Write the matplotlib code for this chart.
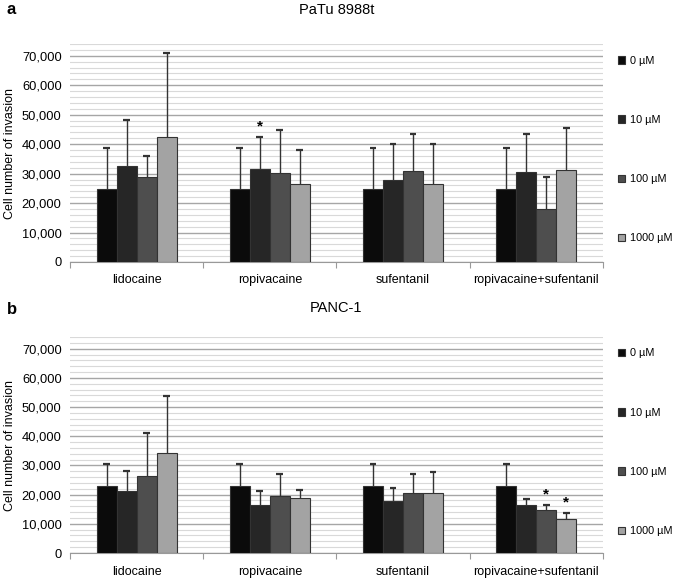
import matplotlib
matplotlib.use("Agg")
import matplotlib.pyplot as plt
import numpy as np
from matplotlib.ticker import FuncFormatter, MultipleLocator

plt.rcParams['font.family'] = ['Liberation Sans', 'DejaVu Sans']

drugs = ["lidocaine", "ropivacaine", "sufentanil", "ropivacaine+sufentanil"]
doses = ["0 µM", "10 µM", "100 µM", "1000 µM"]
colors = ["#0b0b0b", "#262626", "#4e4e4e", "#a3a3a3"]

# PaTu 8988t, one list per dose, values per drug
patu_mean = [[24900, 24900, 24900, 24900],
             [32700, 31500, 27700, 30700],
             [28700, 30300, 30900, 18100],
             [42500, 26400, 26400, 31300]]
patu_sd = [[13800, 13800, 13800, 13800],
           [15400, 10800, 12400, 12600],
           [7300, 14600, 12600, 10600],
           [28500, 11500, 13700, 14200]]
patu_star = [(1, 1)]  # (dose index, drug index)

# PANC-1
panc_mean = [[22900, 22900, 22900, 22900],
             [21100, 16500, 17800, 16500],
             [26500, 19400, 20600, 14700],
             [34400, 18700, 20600, 11500]]
panc_sd = [[7700, 7700, 7700, 7700],
           [7000, 4600, 4600, 2100],
           [14600, 7600, 6600, 1900],
           [19500, 2800, 7300, 2300]]
panc_star = [(2, 3), (3, 3)]

fig = plt.figure(figsize=(6.77, 5.87), dpi=100)
ax_a = fig.add_axes([0.1034, 0.5537, 0.787, 0.3713])
ax_b = fig.add_axes([0.1034, 0.0579, 0.787, 0.3680])


def panel(ax, means, sds, stars):
    x = np.arange(len(drugs))
    w = 0.15
    for i in range(len(doses)):
        pos = x + (i - 1.5) * w
        m = np.array(means[i])
        s = np.array(sds[i])
        ax.bar(pos, m, w, color=colors[i], edgecolor="#333333", linewidth=0.8,
               label=doses[i], zorder=3)
        # upper error bars only
        ax.vlines(pos, m, m + s, color="#333333", linewidth=1.0, zorder=4)
        ax.hlines(m + s, pos - 0.026, pos + 0.026, color="#333333",
                  linewidth=1.6, zorder=4)
    for i, j in stars:
        top = means[i][j] + sds[i][j]
        ax.text(j + (i - 1.5) * w, top + 1200, "*", ha="center", va="bottom",
                fontsize=11, fontweight="bold")
    ax.set_xlim(-0.5, 3.5)
    ax.set_ylim(0, 74000)
    ax.yaxis.set_major_locator(MultipleLocator(10000))
    ax.yaxis.set_minor_locator(MultipleLocator(2000))
    ax.yaxis.set_major_formatter(FuncFormatter(lambda v, p: f"{v:,.0f}"))
    ax.grid(axis="y", which="major", color="#a6a6a6", linewidth=1.0, zorder=0)
    ax.grid(axis="y", which="minor", color="#d9d9d9", linewidth=0.8, zorder=0)
    ax.set_axisbelow(True)
    for sp in ["top", "right", "left"]:
        ax.spines[sp].set_visible(False)
    ax.spines["bottom"].set_color("#999999")
    ax.set_xticks(np.arange(-0.5, 4, 1))
    ax.set_xticklabels([])
    ax.set_xticks(x, minor=True)
    ax.set_xticklabels(drugs, minor=True, fontsize=9)
    ax.tick_params(axis="x", which="major", length=4, color="#999999")
    ax.tick_params(axis="x", which="minor", length=0, pad=9)
    ax.tick_params(axis="y", which="both", length=0, labelsize=9.3, pad=6)
    ax.set_ylabel("Cell number of invasion", fontsize=9)
    ax.legend(loc="upper left", bbox_to_anchor=(1.01, 0.992), frameon=False,
              labelspacing=4.55, handlelength=0.7, handleheight=0.7,
              handletextpad=0.4, fontsize=7.8)


panel(ax_a, patu_mean, patu_sd, patu_star)
panel(ax_b, panc_mean, panc_sd, panc_star)

cx = 0.1034 + 0.787 / 2
fig.text(cx, 1 - 10 / 587, "PaTu 8988t", ha="center", va="center", fontsize=10.5)
fig.text(cx, 1 - 308 / 587, "PANC-1", ha="center", va="center", fontsize=10.5)
fig.text(0.01, 1 - 10 / 587, "a", ha="left", va="center", fontsize=12, fontweight="bold")
fig.text(0.01, 1 - 309 / 587, "b", ha="left", va="center", fontsize=12, fontweight="bold")

fig.savefig("out.png", dpi=100)
